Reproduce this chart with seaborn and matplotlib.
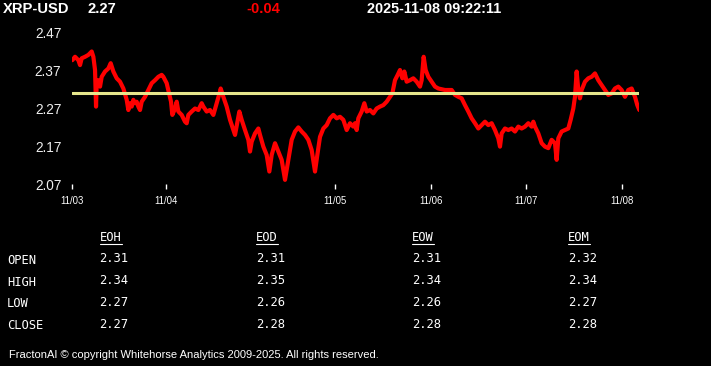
import matplotlib
matplotlib.use("Agg")
import matplotlib.pyplot as plt
import seaborn as sns
import pandas as pd
from matplotlib.lines import Line2D

# 5-minute bar index (from start of 11/03) and price
bars = [2, 10, 20, 25, 30, 40, 50, 60, 65, 70, 73, 75, 80, 85, 90, 100, 110, 117,
        125, 135, 145, 155, 165, 170, 175, 180, 185, 190, 195, 200, 205, 210, 220,
        230, 240, 250, 260, 270, 275, 285, 292, 298, 302, 310, 315, 320, 330, 340,
        345, 350, 360, 370, 380, 390, 395, 405, 415, 425,
        435, 445, 447, 455, 465, 475, 485, 490, 500, 503, 510, 520, 530, 535, 540,
        550, 560, 565, 575, 585, 593, 600, 610, 620, 630, 640, 650, 660, 670, 680,
        690, 700, 710, 720, 730, 737, 745, 755, 765, 775, 785, 795, 805, 815, 825,
        835, 845,
        850, 855, 860, 870, 878, 885, 895, 905, 915, 925, 935, 945, 955, 962, 970,
        978, 985, 992, 998, 1005, 1015, 1025, 1035, 1045, 1050, 1056, 1062, 1070,
        1080, 1090, 1100, 1110, 1120, 1130, 1140, 1150, 1160, 1170, 1180, 1190,
        1200, 1210, 1220, 1230, 1240, 1250, 1260, 1270, 1280,
        1285, 1290, 1300, 1310, 1320, 1330, 1340, 1350, 1360, 1370, 1380, 1385,
        1390, 1400, 1410, 1420, 1430, 1440, 1450, 1455, 1460, 1470, 1480, 1490,
        1497, 1505, 1510, 1515, 1520, 1525, 1530, 1540, 1550, 1560, 1570, 1580,
        1590, 1600, 1610, 1620, 1630, 1640, 1650, 1660, 1670, 1680, 1690, 1697, 1703]
prices = [2.398, 2.407, 2.398, 2.385, 2.403, 2.407, 2.412, 2.421, 2.407, 2.372,
          2.275, 2.337, 2.345, 2.328, 2.354, 2.368, 2.376, 2.390, 2.368, 2.350,
          2.341, 2.323, 2.293, 2.266, 2.284, 2.275, 2.293, 2.284, 2.288, 2.275,
          2.266, 2.288, 2.301, 2.319, 2.337, 2.345, 2.354, 2.359, 2.354, 2.337,
          2.310, 2.288, 2.253, 2.270, 2.288, 2.262, 2.253, 2.235, 2.231, 2.253,
          2.262, 2.270, 2.266, 2.284, 2.275, 2.262, 2.266, 2.253,
          2.284, 2.315, 2.323, 2.301, 2.275, 2.240, 2.213, 2.200, 2.248, 2.262,
          2.240, 2.213, 2.187, 2.156, 2.182, 2.204, 2.217, 2.200, 2.169, 2.147,
          2.103, 2.147, 2.178, 2.156, 2.134, 2.081, 2.134, 2.187, 2.209, 2.220,
          2.209, 2.200, 2.187, 2.160, 2.103, 2.147, 2.195, 2.217, 2.226, 2.244,
          2.253, 2.244, 2.248, 2.240, 2.213, 2.231, 2.222,
          2.231, 2.213, 2.244, 2.262, 2.284, 2.262, 2.266, 2.257, 2.270, 2.275,
          2.279, 2.288, 2.301, 2.310, 2.345, 2.359, 2.372, 2.350, 2.368, 2.341,
          2.345, 2.350, 2.341, 2.328, 2.345, 2.407, 2.372, 2.354, 2.341, 2.328,
          2.323, 2.321, 2.319, 2.319, 2.319, 2.306, 2.301, 2.297, 2.279, 2.262,
          2.244, 2.231, 2.217, 2.226, 2.235, 2.226, 2.231, 2.213, 2.191,
          2.169, 2.204, 2.217, 2.213, 2.217, 2.209, 2.222, 2.217, 2.222, 2.231,
          2.222, 2.235, 2.222, 2.204, 2.178, 2.169, 2.165, 2.187, 2.178, 2.134,
          2.191, 2.209, 2.213, 2.217, 2.240, 2.270, 2.301, 2.368, 2.319, 2.297,
          2.319, 2.341, 2.350, 2.354, 2.363, 2.345, 2.332, 2.319, 2.306, 2.310,
          2.323, 2.328, 2.319, 2.301, 2.319, 2.323, 2.301, 2.279, 2.266]

tick_bars = [0, 283, 791, 1077, 1363, 1652]
tick_labels = ["11/03", "11/04", "11/05", "11/06", "11/07", "11/08"]
y_ticks = [2.07, 2.17, 2.27, 2.37, 2.47]
ref_level = 2.31

symbol = "XRP-USD"
last_price = "2.27"
change = "-0.04"
stamp = "2025-11-08 09:22:11"

row_names = ["OPEN", "HIGH", "LOW", "CLOSE"]
col_names = ["EOH", "EOD", "EOW", "EOM"]
eoh = [2.31, 2.34, 2.27, 2.27]
eod = [2.31, 2.35, 2.26, 2.28]
eow = [2.31, 2.34, 2.26, 2.28]
eom = [2.32, 2.34, 2.27, 2.28]

footer = "FractonAI \u00a9 copyright Whitehorse Analytics 2009-2025. All rights reserved."

sns.set_theme(style="dark", rc={"axes.facecolor": "black", "figure.facecolor": "black",
                                "axes.grid": False})
plt.rcParams["font.family"] = ["Liberation Sans", "DejaVu Sans"]

W, H = 711, 366
fig = plt.figure(figsize=(W / 100, H / 100), dpi=100)
ax = fig.add_axes([71.7 / W, 1 - 184 / H, 567.6 / W, 151 / H])

df = pd.DataFrame({"bar": bars, "price": prices})
sns.lineplot(data=df, x="bar", y="price", color="#ff0000", linewidth=3.0, ax=ax)
ax.axhline(ref_level, color="#e6e68c", linewidth=2.2, zorder=3)

ax.set_xlim(0, 1703)
ax.set_ylim(2.07, 2.47)
ax.set_yticks(y_ticks)
ax.set_yticklabels([f"{v:.2f}" for v in y_ticks])
ax.set_xticks(tick_bars)
ax.set_xticklabels(tick_labels)
ax.set_xlabel("")
ax.set_ylabel("")
for s in ax.spines.values():
    s.set_visible(False)
ax.tick_params(axis="y", length=0, pad=7.5, labelsize=9.8, labelcolor="#eeeeee")
ax.tick_params(axis="x", length=3.5, width=1, color="white", direction="out",
               pad=5, labelsize=6.9, labelcolor="white", bottom=True)


def px(x, y):
    return x / W, 1 - y / H


# header line
fig.text(*px(3, 9), symbol, color="white", fontsize=10.6, fontweight="bold", va="center")
fig.text(*px(87, 9), last_price, color="white", fontsize=10.6, fontweight="bold", va="center")
fig.text(*px(263, 9), change, color="#ff0000", fontsize=10.6, fontweight="bold",
         va="center", ha="center")
fig.text(*px(367, 9), stamp, color="white", fontsize=10.4, fontweight="bold", va="center")

# stats table
mono = ["DejaVu Sans Mono"]
col_x = [99.5, 256, 412, 568]
row_y = [259, 281, 302, 324]
for cx, name, vals in zip(col_x, col_names, [eoh, eod, eow, eom]):
    fig.text(*px(cx, 238), name, color="white", fontsize=8.7, family=mono, va="center")
    fig.add_artist(Line2D([cx / W, (cx + 22) / W], [1 - 244 / H, 1 - 244 / H],
                          color="white", linewidth=0.8))
    for ry, v in zip(row_y, vals):
        fig.text(*px(cx, ry), f"{v:.2f}", color="white", fontsize=8.7, family=mono,
                 va="center")
for ry, name in zip(row_y, row_names):
    fig.text(*px(7, ry + 1.5), name, color="white", fontsize=8.7, family=mono, va="center")

fig.text(*px(9, 355), footer, color="white", fontsize=8.0, va="center")

fig.savefig("out.png", dpi=100, facecolor="black")
